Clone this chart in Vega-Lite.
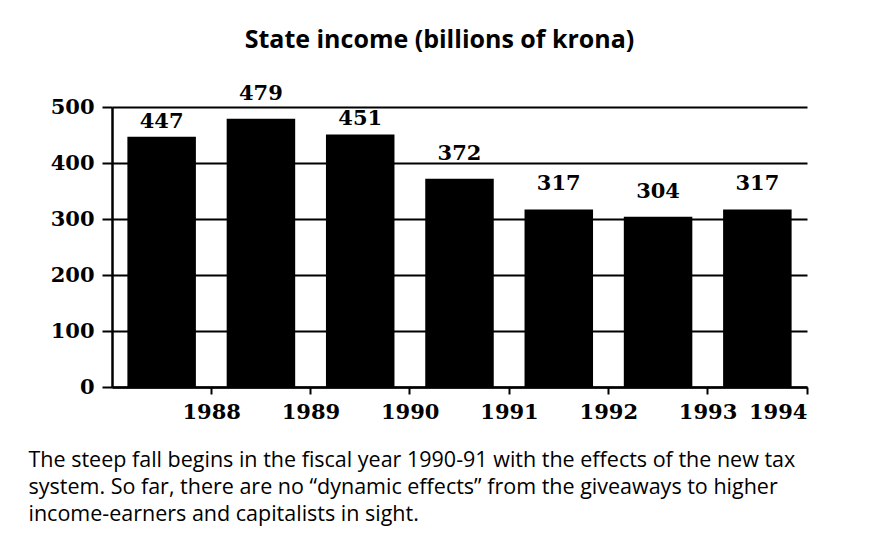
{
  "$schema": "https://vega.github.io/schema/vega-lite/v6.json",
  "width": 695,
  "height": 280,
  "autosize": {"type": "none"},
  "padding": {"left": 112, "top": 107, "right": 68, "bottom": 156},
  "background": "white",
  "title": {
    "text": "State income (billions of krona)",
    "font": "Open Sans",
    "fontSize": 25,
    "fontWeight": 700,
    "color": "black",
    "anchor": "middle",
    "frame": "group",
    "dx": -20,
    "offset": 30
  },
  "data": {
    "values": [
      {"year_end": "1988", "income": 447},
      {"year_end": "1989", "income": 479},
      {"year_end": "1990", "income": 451},
      {"year_end": "1991", "income": 372},
      {"year_end": "1992", "income": 317},
      {"year_end": "1993", "income": 304},
      {"year_end": "1994", "income": 317}
    ]
  },
  "encoding": {
    "x": {
      "field": "year_end",
      "type": "ordinal",
      "sort": null,
      "scale": {"paddingInner": 0, "paddingOuter": 0},
      "axis": {
        "bandPosition": 1,
        "labelOffset": 50,
        "labelAlign": {"condition": {"test": "datum.value == '1994'", "value": "right"}, "value": "center"},
        "labelAngle": 0,
        "labelFont": "DejaVu Serif",
        "labelFontSize": 21,
        "labelFontWeight": "bold",
        "labelColor": "black",
        "labelPadding": 7,
        "tickSize": 7,
        "tickWidth": 2,
        "tickColor": "black",
        "domainColor": "black",
        "domainWidth": 2.5,
        "grid": false,
        "title": [
          "The steep fall begins in the fiscal year 1990-91 with the effects of the new tax",
          "system. So far, there are no “dynamic effects” from the giveaways to higher",
          "income-earners and capitalists in sight."
        ],
        "titleFont": "Open Sans",
        "titleFontSize": 21.5,
        "titleFontWeight": "normal",
        "titleColor": "black",
        "titleAnchor": "start",
        "titleAlign": "left",
        "titleBaseline": "top",
        "titleX": -84,
        "titleY": 62,
        "titleLineHeight": 27
      }
    },
    "y": {
      "field": "income",
      "type": "quantitative",
      "scale": {"domain": [0, 500]},
      "axis": {
        "values": [0, 100, 200, 300, 400, 500],
        "grid": true,
        "gridColor": "black",
        "gridWidth": 2,
        "gridOpacity": 1,
        "tickSize": 10,
        "tickWidth": 2,
        "tickColor": "black",
        "domainColor": "black",
        "domainWidth": 2.5,
        "labelFont": "DejaVu Serif",
        "labelFontSize": 21,
        "labelFontWeight": "bold",
        "labelColor": "black",
        "labelPadding": 8,
        "title": null
      }
    }
  },
  "layer": [
    {"mark": {"type": "bar", "color": "black", "width": {"band": 0.69}}},
    {
      "transform": [{"filter": "datum.year_end == '1988' || datum.year_end == '1990'"}],
      "mark": {
        "type": "text",
        "baseline": "bottom",
        "dy": -5,
        "font": "DejaVu Serif",
        "fontSize": 21,
        "fontWeight": "bold",
        "color": "black"
      },
      "encoding": {"text": {"field": "income"}}
    },
    {
      "transform": [{"filter": "datum.year_end != '1988' && datum.year_end != '1990'"}],
      "mark": {
        "type": "text",
        "baseline": "bottom",
        "dy": -15,
        "font": "DejaVu Serif",
        "fontSize": 21,
        "fontWeight": "bold",
        "color": "black"
      },
      "encoding": {"text": {"field": "income"}}
    }
  ],
  "config": {"view": {"stroke": null}}
}
